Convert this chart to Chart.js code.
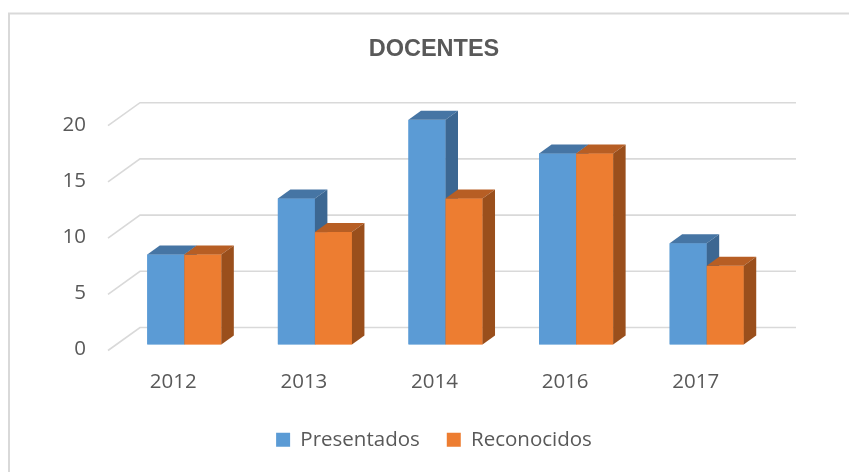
<!DOCTYPE html>
<html>
<head>
<meta charset="utf-8">
<script src="https://cdn.jsdelivr.net/npm/chart.js@4.4.1/dist/chart.umd.min.js"></script>
<style>
  html, body { margin: 0; padding: 0; background: #ffffff; }
  #wrap { position: relative; width: 849px; height: 472px; }
  canvas { display: block; }
</style>
</head>
<body>
<div id="wrap"><canvas id="c" width="849" height="472"></canvas></div>
<script>
// ---- data ----
const categories = ['2012', '2013', '2014', '2016', '2017'];
const presentados = [8, 13, 20, 17, 9];
const reconocidos = [8, 10, 13, 17, 7];
const yTicks = [0, 5, 10, 15, 20];
const seriesNames = ['Presentados', 'Reconocidos'];
const chartTitle = 'DOCENTES';

// ---- styling ----
const TEXT = '#595959';
const GRID = '#d9d9d9';
const faces = [
  { front: '#5b9bd5', top: '#4675a4', side: '#3c6792' },
  { front: '#ed7d31', top: '#b75e24', side: '#9a4f1c' }
];
const DX = 12.5, DY = 9; // bar depth projection
const FONT = '"Open Sans", Lato, sans-serif';

const borderPlugin = {
  id: 'frameBorder',
  beforeDraw(chart) {
    const ctx = chart.ctx;
    ctx.save();
    ctx.fillStyle = '#ffffff';
    ctx.fillRect(0, 0, chart.width, chart.height);
    ctx.strokeStyle = GRID;
    ctx.lineWidth = 2;
    ctx.strokeRect(9, 13.5, 900, 520);
    ctx.restore();
  }
};

const grid3dPlugin = {
  id: 'grid3d',
  beforeDatasetsDraw(chart) {
    const ctx = chart.ctx;
    const y = chart.scales.y;
    const a = chart.chartArea;
    ctx.save();
    ctx.strokeStyle = GRID;
    ctx.lineWidth = 1.6;
    yTicks.forEach(v => {
      const p = y.getPixelForValue(v);
      ctx.beginPath();
      ctx.moveTo(a.left - 11, p + 6);
      ctx.lineTo(a.left + 21, p - 17);
      ctx.lineTo(a.right + 24, p - 17);
      ctx.stroke();
    });
    ctx.restore();
  }
};

const bars3dPlugin = {
  id: 'bars3d',
  afterDatasetsDraw(chart) {
    const ctx = chart.ctx;
    ctx.save();
    for (let d = 0; d < chart.data.datasets.length; d++) {
      const meta = chart.getDatasetMeta(d);
      const f = faces[d];
      meta.data.forEach(el => {
        const props = el.getProps(['x', 'y', 'base', 'width'], true);
        const l = props.x - props.width / 2;
        const r = props.x + props.width / 2;
        const t = props.y;
        const b = props.base;
        ctx.fillStyle = f.front;
        ctx.fillRect(l, t, r - l, b - t);
        ctx.fillStyle = f.top;
        ctx.beginPath();
        ctx.moveTo(l, t);
        ctx.lineTo(l + DX, t - DY);
        ctx.lineTo(r + DX, t - DY);
        ctx.lineTo(r, t);
        ctx.closePath();
        ctx.fill();
        ctx.fillStyle = f.side;
        ctx.beginPath();
        ctx.moveTo(r, t);
        ctx.lineTo(r + DX, t - DY);
        ctx.lineTo(r + DX, b - DY);
        ctx.lineTo(r, b);
        ctx.closePath();
        ctx.fill();
      });
    }
    ctx.restore();
  }
};

new Chart(document.getElementById('c'), {
  type: 'bar',
  data: {
    labels: categories,
    datasets: [
      { label: seriesNames[0], data: presentados, backgroundColor: faces[0].front, borderWidth: 0 },
      { label: seriesNames[1], data: reconocidos, backgroundColor: faces[1].front, borderWidth: 0 }
    ]
  },
  options: {
    responsive: false,
    animation: false,
    devicePixelRatio: 1,
    layout: { padding: { left: 19, right: 0, top: 0, bottom: 12 } },
    datasets: { bar: { categoryPercentage: 0.567, barPercentage: 1.0 } },
    plugins: {
      title: {
        display: true,
        text: chartTitle,
        color: TEXT,
        font: { family: '"Liberation Sans", Arial, sans-serif', size: 23.5, weight: 'bold', lineHeight: 1.2 },
        padding: { top: 35, bottom: 56.5 }
      },
      legend: {
        display: true,
        position: 'bottom',
        labels: {
          color: TEXT,
          font: { family: FONT, size: 20.5 },
          boxWidth: 14,
          boxHeight: 14,
          padding: 27
        }
      },
      tooltip: { enabled: false }
    },
    scales: {
      x: {
        grid: { display: false, drawTicks: false, drawOnChartArea: false },
        border: { display: false },
        ticks: {
          color: TEXT,
          font: { family: FONT, size: 20.5 },
          padding: 25,
          labelOffset: -11
        },
        afterFit(s) { s.height = 58; }
      },
      y: {
        min: 0,
        max: 20,
        grid: { display: false, drawTicks: false },
        border: { display: false },
        ticks: {
          stepSize: 5,
          color: TEXT,
          font: { family: FONT, size: 20.5 },
          padding: 33,
          labelOffset: 5
        },
        afterFit(s) { s.width = 100; }
      },
      yRight: {
        type: 'linear',
        position: 'right',
        display: true,
        grid: { display: false, drawTicks: false },
        border: { display: false },
        ticks: { display: false },
        afterFit(s) { s.width = 77; }
      }
    }
  },
  plugins: [borderPlugin, grid3dPlugin, bars3dPlugin]
});
</script>
</body>
</html>
